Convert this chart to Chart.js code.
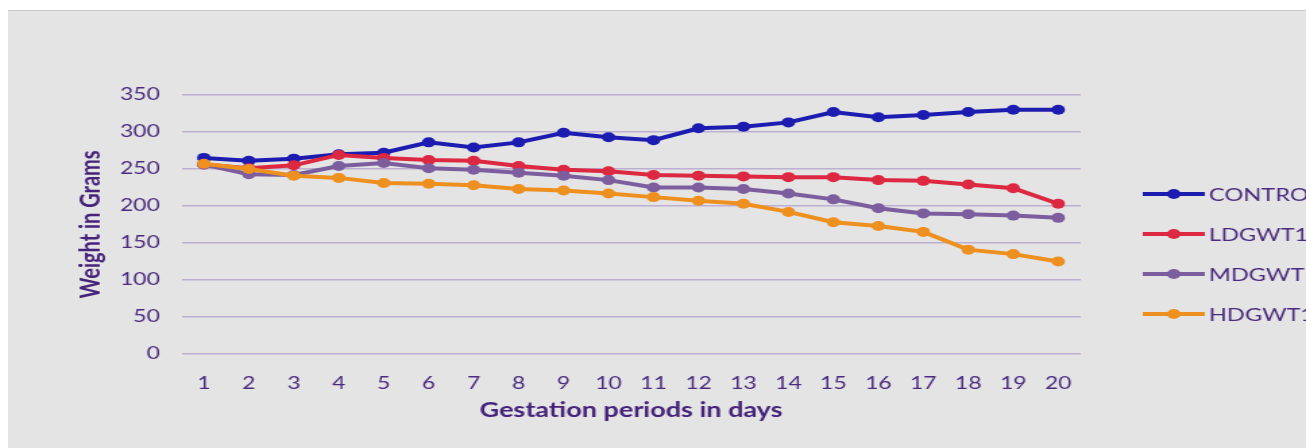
<!DOCTYPE html>
<html>
<head>
<meta charset="utf-8">
<script src="https://cdn.jsdelivr.net/npm/chart.js@4.4.1/dist/chart.umd.min.js"></script>
<style>
	html, body { margin: 0; padding: 0; background: #ffffff; width: 1306px; height: 448px; overflow: hidden; }
	#frame { position: absolute; left: 8px; top: 10px; width: 1298px; height: 438px; background: #e4e4e4; border-top: 1px solid #c9c5d3; box-sizing: border-box; overflow: hidden; }
	#stretch { position: absolute; left: 0; top: -1px; width: 962px; height: 438px; transform: scaleX(1.3493); transform-origin: 0 0; }
</style>
</head>
<body>
<div id="frame">
	<div id="stretch"><canvas id="myChart" width="962" height="438"></canvas></div>
</div>
<script>
const days = ["1", "2", "3", "4", "5", "6", "7", "8", "9", "10", "11", "12", "13", "14", "15", "16", "17", "18", "19", "20"];
const seriesNames = ["CONTROL", "LDGWT1", "MDGWT1", "HDGWT1"];
const control = [265, 261, 264, 270, 272, 286, 279, 286, 299, 293, 289, 305, 307, 313, 327, 320, 323, 327, 330, 330];
const ldgwt1 = [256, 251, 255, 269, 265, 262, 261, 254, 249, 247, 242, 241, 240, 239, 239, 235, 234, 229, 224, 203];
const mdgwt1 = [256, 243, 242, 254, 258, 251, 249, 245, 241, 235, 225, 225, 223, 217, 209, 197, 190, 189, 187, 184];
const hdgwt1 = [257, 250, 241, 238, 231, 230, 228, 223, 221, 217, 212, 207, 203, 192, 178, 173, 165, 141, 135, 125];
const yTicks = [0, 50, 100, 150, 200, 250, 300, 350];
const colors = ["#1c1cb0", "#dc2840", "#7c5e9e", "#ee9020"];

const textColor = "#4a2a7d";
const values = [control, ldgwt1, mdgwt1, hdgwt1];

// legend on the right, line with a dot like the excel one
const sideLegend = {
	id: "sideLegend",
	afterDraw(chart) {
		const ctx = chart.ctx;
		ctx.save();
		chart.data.datasets.forEach(function(ds, i){
			let y = 184 + i * 40;
			ctx.strokeStyle = ds.borderColor;
			ctx.lineWidth = 4;
			ctx.beginPath();
			ctx.moveTo(841, y);
			ctx.lineTo(887, y);
			ctx.stroke();
			ctx.fillStyle = ds.borderColor;
			ctx.beginPath();
			ctx.arc(864, y, 5, 0, Math.PI * 2);
			ctx.fill();
			ctx.fillStyle = textColor;
			ctx.font = "17.5px Lato";
			ctx.textAlign = "left";
			ctx.textBaseline = "middle";
			ctx.fillText(ds.label, 890, y + 1);
		});
		ctx.restore();
	}
};

const ctx = document.getElementById("myChart").getContext("2d");

const myChart = new Chart(ctx, {
	type: "line",
	data: {
		labels: days,
		datasets: seriesNames.map(function(name, i){
			return {
				label: name,
				data: values[i],
				borderColor: colors[i],
				backgroundColor: colors[i],
				pointBackgroundColor: colors[i],
				pointBorderWidth: 0,
				pointRadius: 5,
				borderWidth: 4,
				tension: 0,
				order: 4 - i // last series on top
			};
		})
	},
	options: {
		responsive: false,
		animation: false,
		events: [],
		layout: {
			padding: { left: 50, top: 85, right: 167, bottom: 25 }
		},
		plugins: {
			legend: { display: false },
			tooltip: { enabled: false }
		},
		scales: {
			x: {
				offset: true,
				grid: { display: false },
				border: { display: false },
				ticks: { color: textColor, font: { family: "Lato", size: 17 }, padding: 11, maxRotation: 0, autoSkip: false },
				title: {
					display: true,
					text: "Gestation periods in days",
					color: "#45237a",
					font: { family: "Lato", size: 20, weight: "bold" },
					padding: { top: 0, bottom: 0 }
				},
				afterFit: function(scale){ scale.height = 69; }
			},
			y: {
				min: 0,
				max: 350,
				afterBuildTicks: function(scale){ scale.ticks = yTicks.map(v => ({ value: v })); },
				grid: { color: "#bcafd1", lineWidth: 1.5, drawTicks: false },
				border: { display: false },
				ticks: { color: textColor, font: { family: "Lato", size: 17 }, padding: 16 },
				title: {
					display: true,
					text: "Weight in Grams",
					color: "#45237a",
					font: { family: "Lato", size: 20, weight: "bold" },
					padding: { top: 0, bottom: 0 }
				},
				afterFit: function(scale){ scale.width = 78.5; }
			}
		}
	},
	plugins: [sideLegend]
});
</script>
</body>
</html>
